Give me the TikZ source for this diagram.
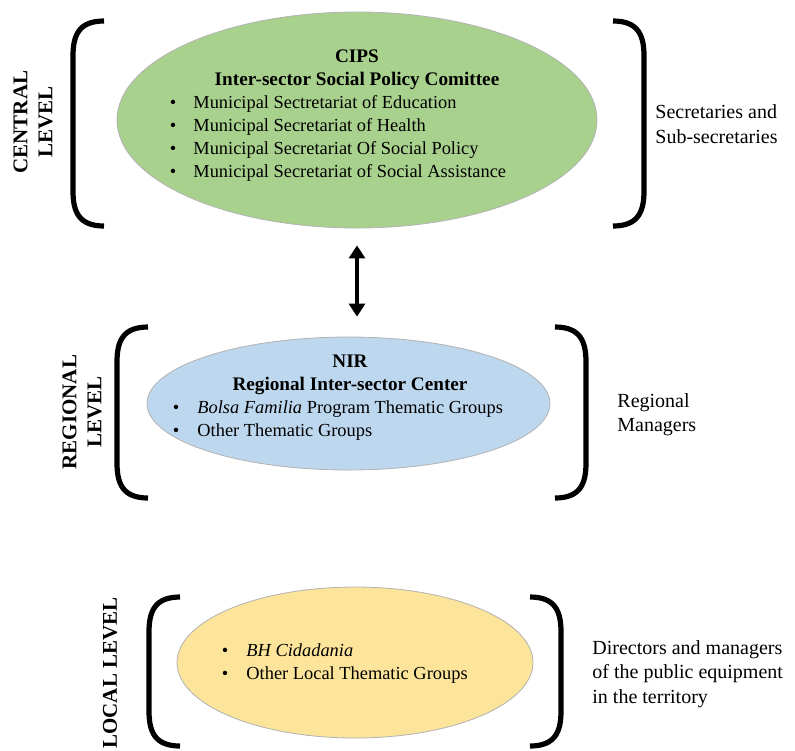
\documentclass[tikz,border=0pt]{standalone}
\usepackage{fontspec}
\setmainfont{Liberation Serif}
\usetikzlibrary{shapes.geometric,arrows.meta,calc}
\definecolor{cipsgreen}{RGB}{169,209,142}
\definecolor{nirblue}{RGB}{189,215,238}
\definecolor{localyellow}{RGB}{252,228,155}
\tikzset{
	lvl/.style={ellipse,draw=gray!60,line width=0.4pt,inner sep=0pt},
	brk/.style={line width=2.6pt},
	lvltext/.style={rotate=90,align=center,inner sep=0pt,font=\fontsize{10.5}{12.5}\selectfont\bfseries},
	side/.style={anchor=west,align=left,inner sep=0pt,font=\fontsize{10}{12.2}\selectfont},
	item/.style={anchor=mid west,inner sep=0pt,font=\fontsize{9.2}{10}\selectfont},
	dot/.style={anchor=mid,inner sep=0pt,font=\fontsize{9.2}{10}\selectfont},
	ttl/.style={anchor=mid,inner sep=0pt,font=\fontsize{9.6}{10}\selectfont\bfseries},
	dblarrow/.style={line width=2pt,{Triangle[width=8pt,length=6.5pt]}-{Triangle[width=8pt,length=6.5pt]}},
}
\begin{document}
\begin{tikzpicture}[x=0.5pt,y=-0.5pt]
	\useasboundingbox (0,0) rectangle (795,750);
	% the three levels
	\node[lvl,fill=cipsgreen,minimum width=240pt,minimum height=108pt] (cips) at (357,120) {};
	\node[lvl,fill=nirblue,minimum width=201.5pt,minimum height=66.5pt] (nir) at (348.5,403.5) {};
	\node[lvl,fill=localyellow,minimum width=178pt,minimum height=75.5pt] (local) at (355,662.5) {};
	% brackets
	\foreach \Xl/\Xr/\Yt/\Yb in {73/644/21/226, 117/586/327/498, 149/561/597/746}
	{
		\draw[brk] (\Xl+31,\Yt) .. controls (\Xl+6,\Yt) and (\Xl,\Yt+14) .. (\Xl,\Yt+35)
		-- (\Xl,\Yb-35) .. controls (\Xl,\Yb-14) and (\Xl+6,\Yb) .. (\Xl+31,\Yb);
		\draw[brk] (\Xr-31,\Yt) .. controls (\Xr-6,\Yt) and (\Xr,\Yt+14) .. (\Xr,\Yt+35)
		-- (\Xr,\Yb-35) .. controls (\Xr,\Yb-14) and (\Xr-6,\Yb) .. (\Xr-31,\Yb);
	}
	% level names
	\node[lvltext] (lcentral) at (33,122) {CENTRAL\\LEVEL};
	\node[lvltext] (lregional) at (82,412) {REGIONAL\\LEVEL};
	\node[lvltext] (llocal) at (110,673) {LOCAL LEVEL};
	% central
	\node[ttl] (cipsname) at (357,58) {CIPS};
	\node[ttl] (cipsfull) at (357,81) {Inter-sector Social Policy Comittee};
	\foreach \Yc/\Texto [count=\i] in
	{104/Municipal Sectretariat of Education,127/Municipal Secretariat of Health,
	150/Municipal Secretariat Of Social Policy,173/Municipal Secretariat of Social Assistance}
	{
		\node[dot] (cb\i) at (173,\Yc) {\textbullet};
		\node[item] (ct\i) at (193,\Yc) {\Texto};
	}
	% regional
	\node[ttl] (nirname) at (350,363) {NIR};
	\node[ttl] (nirfull) at (350,386) {Regional Inter-sector Center};
	\foreach \Yc/\Texto [count=\i] in
	{409/{\emph{Bolsa Familia} Program Thematic Groups},432/Other Thematic Groups}
	{
		\node[dot] (rb\i) at (176,\Yc) {\textbullet};
		\node[item] (rt\i) at (197,\Yc) {\Texto};
	}
	% local
	\foreach \Yc/\Texto [count=\i] in
	{652/\emph{BH Cidadania},675/Other Local Thematic Groups}
	{
		\node[dot] (lb\i) at (225,\Yc) {\textbullet};
		\node[item] (lt\i) at (246,\Yc) {\Texto};
	}
	% who takes part
	\node[side] (scentral) at (655,124) {Secretaries and\\Sub-secretaries};
	\node[side] (sregional) at (617,415) {Regional\\Managers};
	\node[side] (slocal) at (592,674) {Directors and managers\\of the public equipment\\in the territory};
	% link between central and regional
	\draw[dblarrow,shorten <=8.5pt,shorten >=10pt] (cips.south) -- (cips.south |- nir.north);
\end{tikzpicture}
\end{document}
